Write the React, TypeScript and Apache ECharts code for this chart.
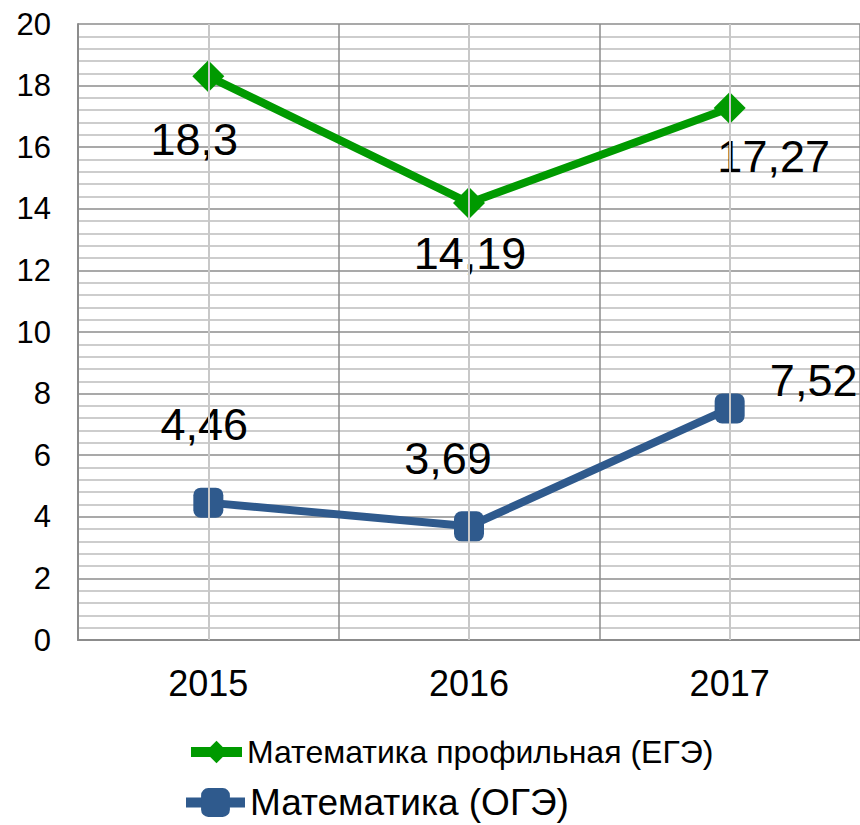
import React, { useEffect, useRef } from "react";
import * as echarts from "echarts";

const years = ["2015", "2016", "2017"];
const egeName = "Математика профильная (ЕГЭ)";
const ogeName = "Математика (ОГЭ)";
const egeValues = [18.3, 14.19, 17.27];
const ogeValues = [4.46, 3.69, 7.52];
const yMin = 0;
const yMax = 20;
const yStep = 2;

// label offsets (styling, kept apart from data)
const egeLabelOffsets = [[-14, 63], [1, 51], [44, 48]];
const ogeLabelOffsets = [[-4, -78], [-21, -68], [84, -28]];

const FONT = "'Liberation Sans', Arial, sans-serif";
const GREEN = "#009a00";
const BLUE = "#2f5a8d";

const fmt = (v: number) => String(v).replace(".", ",");

export default function App() {
  const ref = useRef<HTMLDivElement>(null);
  useEffect(() => {
    if (!ref.current) return;
    const chart = echarts.init(ref.current, null, { renderer: "svg" });
    const labelBase = {
      show: true,
      position: "inside",
      fontSize: 45,
      fontFamily: FONT,
      color: "#000",
      align: "center",
      verticalAlign: "middle",
      formatter: (p: any) => fmt(p.value),
    };
    chart.setOption({
      animation: false,
      backgroundColor: "#fff",
      textStyle: { fontFamily: FONT },
      grid: { left: 78, top: 24, width: 784, height: 616, containLabel: false },
      legend: [
        {
          data: [{ name: egeName }],
          left: 186,
          top: 736,
          padding: 0,
          orient: "vertical",
          itemWidth: 51,
          itemHeight: 28,
          lineStyle: { width: 10 },
          textStyle: { fontSize: 32, fontFamily: FONT, color: "#000" },
          selectedMode: false,
        },
        {
          data: [{ name: ogeName }],
          left: 181,
          top: 784,
          padding: 0,
          orient: "vertical",
          itemWidth: 59,
          itemHeight: 36,
          lineStyle: { width: 10 },
          textStyle: { fontSize: 37, fontFamily: FONT, color: "#000" },
          selectedMode: false,
        },
      ],
      xAxis: {
        type: "category",
        data: years,
        boundaryGap: true,
        axisLine: { show: true, lineStyle: { color: "#8c8c8c", width: 2 } },
        axisTick: { show: false },
        axisLabel: { fontSize: 36, color: "#000", fontFamily: FONT, margin: 25 },
        splitLine: { show: true, interval: 0, lineStyle: { color: "#8c8c8c", width: 1.5 } },
      },
      yAxis: {
        type: "value",
        min: yMin,
        max: yMax,
        interval: yStep,
        axisLine: { show: true, lineStyle: { color: "#8c8c8c", width: 2 } },
        axisTick: { show: false },
        axisLabel: { fontSize: 31, color: "#000", fontFamily: FONT, margin: 27 },
        splitLine: { show: true, lineStyle: { color: "#8c8c8c", width: 1.5 } },
        minorTick: { show: false, splitNumber: 5 },
        minorSplitLine: { show: true, lineStyle: { color: "#cdcdcd", width: 2 } },
      },
      series: [
        {
          type: "line",
          name: "centers",
          z: 1,
          data: [],
          silent: true,
          markLine: {
            silent: true,
            symbol: "none",
            label: { show: false },
            lineStyle: { color: "#c8c8c8", type: "solid", width: 2 },
            data: years.map((y) => ({ xAxis: y })),
          },
        },
        {
          type: "line",
          name: egeName,
          z: 3,
          data: egeValues.map((v, i) => ({
            value: v,
            label: { ...labelBase, offset: egeLabelOffsets[i] },
          })),
          symbol: "diamond",
          symbolSize: 32,
          lineStyle: { color: GREEN, width: 8 },
          itemStyle: { color: GREEN },
          label: labelBase,
        },
        {
          type: "line",
          name: ogeName,
          z: 3,
          data: ogeValues.map((v, i) => ({
            value: v,
            label: { ...labelBase, offset: ogeLabelOffsets[i] },
          })),
          symbol: "roundRect",
          symbolSize: 30,
          lineStyle: { color: BLUE, width: 8 },
          itemStyle: { color: BLUE },
          label: labelBase,
        },
      ],
    });
    return () => chart.dispose();
  }, []);
  return (
    <div
      ref={ref}
      style={{ position: "absolute", left: 0, top: 0, width: 860, height: 825 }}
    />
  );
}
